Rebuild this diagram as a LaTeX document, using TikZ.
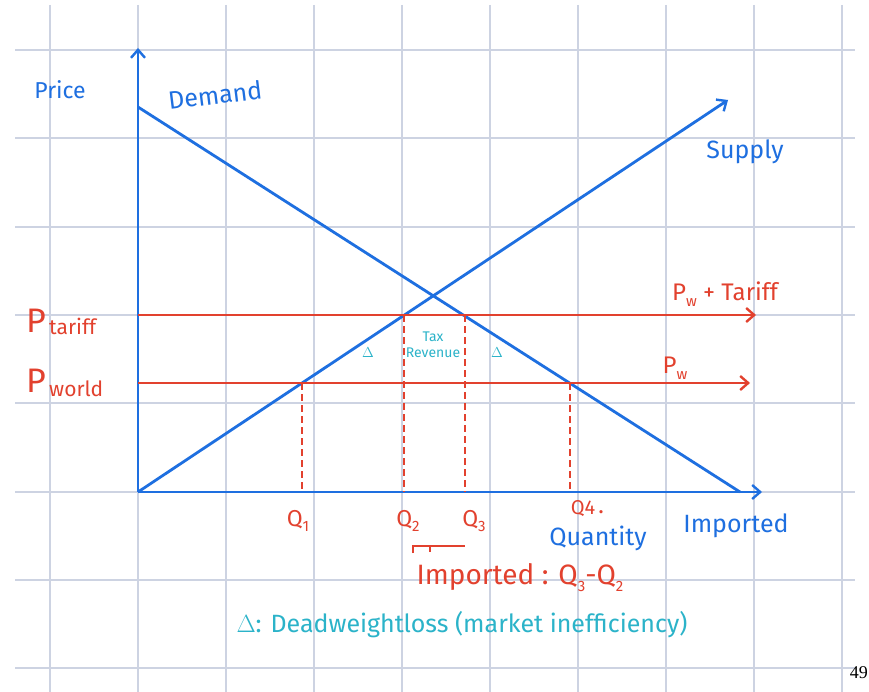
\documentclass[tikz,border=0pt]{standalone}
\usepackage{fontspec}
\setmainfont{Fira Sans}
\newfontfamily\pagefont{Liberation Serif}
\usetikzlibrary{arrows.meta}
\definecolor{gridc}{HTML}{CDD3E2}
\definecolor{penblue}{HTML}{1E6FE0}
\definecolor{penred}{HTML}{E2412E}
\definecolor{pencyan}{HTML}{2BB3C9}
\newcommand{\lowsub}[1]{\raisebox{-0.25em}{\fontsize{15}{16}\selectfont #1}}
\begin{document}
\begin{tikzpicture}[x=1pt,y=-1pt,
  gridline/.style={gridc,line width=1.2pt},
  blueline/.style={penblue,line width=2.8pt},
  redline/.style={penred,line width=2.5pt},
  reddash/.style={penred,line width=2.2pt,dash pattern=on 7pt off 4pt},
  tipped/.style={-{Straight Barb[length=8pt,width=14pt,line width=2.4pt]}},
  bluetxt/.style={text=penblue,font=\fontsize{23}{25}\selectfont,inner sep=0pt},
  redtxt/.style={text=penred,font=\fontsize{23}{25}\selectfont,inner sep=0pt},
  cyantxt/.style={text=pencyan,font=\fontsize{25}{28}\selectfont,inner sep=0pt},
  smallcyan/.style={text=pencyan,font=\fontsize{14}{16}\selectfont,inner sep=0pt,align=center}
]
\useasboundingbox (0,0) rectangle (869,692);
\fill[white] (0,0) rectangle (869,692);
% grid
\foreach \x in {50,138,226,314,402,490,578,666,754,842}
  \draw[gridline] (\x,5) -- (\x,692);
\foreach \y in {50,138,227,315,403,492,580,668}
  \draw[gridline] (15,\y) -- (855,\y);
% coordinates
\coordinate (O) at (138,492);
\coordinate (Ytop) at (138,48);
\coordinate (Xend) at (762,492);
\coordinate (D1) at (138,107);
\coordinate (D2) at (740,492);
\coordinate (S2) at (728,100);
\coordinate (T0) at (138,315);
\coordinate (Tend) at (756,315);
\coordinate (W0) at (138,383);
\coordinate (Wend) at (750,383);
\coordinate (q1t) at (302,383);
\coordinate (q2t) at (404,315);
\coordinate (q3t) at (465,315);
\coordinate (q4t) at (570,383);
% axes and curves
\draw[blueline,tipped] (O) -- (Ytop);
\draw[blueline,tipped] (O) -- (Xend);
\draw[blueline] (D1) -- (D2);
\draw[blueline,tipped] (O) -- (S2);
% price lines
\draw[redline,tipped] (T0) -- (Tend);
\draw[redline,tipped] (W0) -- (Wend);
% dashed drops
\draw[reddash] (q1t) -- (q1t |- O);
\draw[reddash] (q2t) -- (q2t |- O);
\draw[reddash] (q3t) -- (q3t |- O);
\draw[reddash] (q4t) -- (q4t |- O);
% labels
\node[bluetxt] (price) at (60,90) {Price};
\node[bluetxt,font=\fontsize{25}{27}\selectfont,rotate=7] (demand) at (215,95) {Demand};
\node[bluetxt,font=\fontsize{25}{27}\selectfont] (supply) at (745,152) {Supply};
\node[redtxt,font=\fontsize{34}{36}\selectfont,anchor=base west] (pt) at (26,332) {P};
\node[redtxt,font=\fontsize{21}{23}\selectfont,anchor=base west] (ptsub) at (49,334) {tariff};
\node[redtxt,font=\fontsize{34}{36}\selectfont,anchor=base west] (pw) at (26,392) {P};
\node[redtxt,font=\fontsize{21}{23}\selectfont,anchor=base west] (pwsub) at (49,396) {world};
\node[redtxt,font=\fontsize{24}{26}\selectfont] (pwt) at (725,294) {P\lowsub{w} + Tariff};
\node[redtxt,font=\fontsize{24}{26}\selectfont] (pwl) at (675,368) {P\lowsub{w}};
\node[smallcyan] (tax) at (433,345) {Tax\\Revenue};
\node[smallcyan] (dl) at (368,353) {$\Delta$};
\node[smallcyan] (dr) at (497,353) {$\Delta$};
\node[redtxt] (Q1) at (298,521) {Q\lowsub{1}};
\node[redtxt] (Q2) at (408,521) {Q\lowsub{2}};
\node[redtxt] (Q3) at (474,521) {Q\lowsub{3}};
\node[redtxt,font=\fontsize{20}{22}\selectfont] (Q4) at (583,509) {Q4};
\node[redtxt] (dot) at (601,512) {.};
\node[bluetxt,font=\fontsize{25}{27}\selectfont] (qty) at (598,538) {Quantity};
\node[bluetxt,font=\fontsize{25}{27}\selectfont] (imp) at (736,526) {Imported};
\coordinate (br1) at (413,553);
\coordinate (br2) at (465,546);
\draw[redline,line width=2pt] (br1) -- (413,546) -- (br2);
\draw[redline,line width=2pt] (430,546) -- (430,552);
\node[redtxt,font=\fontsize{28}{30}\selectfont] (impq) at (520,578) {Imported : Q\lowsub{3}-Q\lowsub{2}};
\node[cyantxt] (dwl) at (462,625) {$\Delta$: Deadweightloss (market inefficiency)};
\node[inner sep=0pt,anchor=east,font=\pagefont\fontsize{18}{20}\selectfont] (pg) at (868,673) {49};
\end{tikzpicture}
\end{document}
